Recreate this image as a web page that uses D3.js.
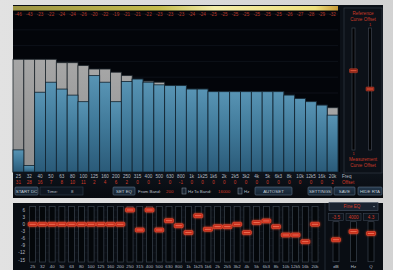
<!DOCTYPE html>
<html>
<head>
<meta charset="utf-8">
<style>
  html, body { margin: 0; padding: 0; background: #dcdcdc; overflow: hidden; }
  svg { display: block; font-family: "Liberation Sans", Arial, sans-serif; }
</style>
<script src="https://cdn.jsdelivr.net/npm/d3@7"></script>
</head>
<body>
<svg id="chart" width="393" height="270"></svg>
<script>
// 1/3 octave bands
const bands = ["25","32","40","50","63","80","100","125","160","200","250","315","400","500","630",
  "800","1k","1k25","1k6","2k","2k5","3k2","4k","5k","6k3","8k","10k","12k5","16k","20k"];
// red peak numbers over the RTA
const peakLabels = [-46,-43,-23,-22,-24,-24,-26,-20,-22,-19,-21,-21,-22,-23,-23,
  -23,-24,-24,-25,-25,-25,-25,-25,-25,-25,-26,-27,-28,-29,-32];
// grey reference curve (dB)
const refLevels = [-17.2,-17.2,-17.2,-17.2,-18.5,-18.5,-19.6,-20.9,-20.9,-22.1,-23.4,-24.7,-25.5,-25.9,-27.2,
  -27.2,-28.5,-28.5,-29.5,-29.5,-29.5,-29.5,-29.5,-29.5,-29.5,-30.8,-32.1,-33.3,-34.6,-35.6];
// blue measurement (dB)
const measLevels = [-51.6,-57.5,-29.7,-25.9,-28.5,-30.8,-33.3,-23.4,-25.9,-33.3,-25.6,-24.7,-25.9,-26.9,-27.2,
  -27.2,-28.5,-28.5,-29.5,-29.5,-29.5,-29.5,-29.5,-29.5,-29.5,-30.8,-32.1,-33.3,-34.6,-38.4];
// per band offset row
const offsets = [31,28,16,7,8,10,11,2,4,6,2,0,0,1,0,-1,0,0,0,0,0,0,0,0,0,0,0,0,0,2];
// graphic EQ gains (dB)
const eqGains = [0,0,0,0,0,0,0,0,0,0,6,-2.4,6,-2.4,1.5,-0.6,-3.5,3.6,-2.1,-1,-1,0,-3.5,0.7,1.4,-1,-4.5,-4.5,-7.3,0];
const eqTicks = [6,3,0,-3,-6,-9,-12,-15];
const gridDb = [0,-6,-12,-18,-24,-30,-36,-42,-48,-54];
// reference / measurement curve offsets
const curveOffsets = [6, 0];
// fine EQ
const fineLabels = ["dB","Hz","Q"];
const fineValues = [-3.5, 4000, 4.3];
const fineText = ["-3.5","4000","4.3"];

const svg = d3.select("#chart");
const defs = svg.append("defs");

function grad(id, stops, x2, y2) {
  const g = defs.append("linearGradient").attr("id", id)
    .attr("x1", 0).attr("y1", 0).attr("x2", x2).attr("y2", y2);
  stops.forEach(s => g.append("stop").attr("offset", s[0]).attr("stop-color", s[1]));
}
grad("bgGrad", [[0,"#e2e2e2"],[1,"#d2d2d2"]], 1, 0);
grad("yellow", [[0,"#9c9444"],[0.45,"#c4bc4c"],[0.62,"#f2eca8"],[0.93,"#eee07c"],[1,"#c89a38"]], 1, 0);
grad("blueBar", [[0,"#5894b4"],[0.5,"#3f7898"],[1,"#2a5a78"]], 0, 1);
grad("greyBar", [[0,"#a6a6a6"],[1,"#8e8e8e"]], 0, 1);
grad("btn", [[0,"#24384c"],[1,"#142230"]], 0, 1);
grad("panelLow", [[0,"#0e141c"],[1,"#070a0f"]], 0, 1);

const glow = defs.append("filter").attr("id", "glow")
  .attr("x", "-50%").attr("y", "-80%").attr("width", "200%").attr("height", "260%");
glow.append("feGaussianBlur").attr("stdDeviation", 0.9).attr("result", "b");
const fm = glow.append("feMerge");
fm.append("feMergeNode").attr("in", "b");
fm.append("feMergeNode").attr("in", "SourceGraphic");

svg.append("rect").attr("width", 393).attr("height", 270).attr("fill", "url(#bgGrad)");

// ---------- top RTA panel ----------
const rta = svg.append("g");
rta.append("rect").attr("x", 13).attr("y", 5).attr("width", 370).attr("height", 193).attr("fill", "#0b1017");
rta.append("rect").attr("x", 13).attr("y", 10).attr("width", 327).attr("height", 162).attr("fill", "#03050a");
rta.append("rect").attr("x", 13).attr("y", 6).attr("width", 325).attr("height", 4.5).attr("fill", "url(#yellow)");

const x = d3.scaleBand().domain(bands).range([13, 338]);
const y = d3.scaleLinear().domain([-60, 0]).range([172, 14]);
const bw = x.bandwidth();

rta.selectAll("line.grid").data(gridDb).enter().append("line")
  .attr("x1", 13).attr("x2", 338)
  .attr("y1", d => y(d)).attr("y2", d => y(d))
  .attr("stroke", "#141a24").attr("stroke-width", 0.6);

rta.selectAll("text.peak").data(peakLabels).enter().append("text")
  .attr("x", (d, i) => x(bands[i]) + bw / 2).attr("y", 16)
  .attr("text-anchor", "middle").attr("font-size", 4.6).attr("fill", "#b83a2a")
  .text(d => d);

rta.selectAll("rect.ref").data(refLevels).enter().append("rect")
  .attr("x", (d, i) => x(bands[i])).attr("y", d => y(d))
  .attr("width", bw).attr("height", d => y.range()[0] - y(d))
  .attr("fill", "url(#greyBar)").attr("stroke", "#20282e").attr("stroke-width", 0.8);

rta.selectAll("rect.meas").data(measLevels).enter().append("rect")
  .attr("x", (d, i) => x(bands[i])).attr("y", d => y(d))
  .attr("width", bw).attr("height", d => y.range()[0] - y(d))
  .attr("fill", "url(#blueBar)").attr("stroke", "#11222e").attr("stroke-width", 0.8);

// label strip
rta.append("rect").attr("x", 13).attr("y", 172).attr("width", 370).attr("height", 26).attr("fill", "url(#panelLow)");
rta.selectAll("text.freq").data(bands).enter().append("text")
  .attr("x", d => x(d) + bw / 2).attr("y", 177.5)
  .attr("text-anchor", "middle").attr("font-size", 4.6).attr("fill", "#b4bcc4")
  .text(d => d);
rta.selectAll("text.off").data(offsets).enter().append("text")
  .attr("x", (d, i) => x(bands[i]) + bw / 2).attr("y", 184)
  .attr("text-anchor", "middle").attr("font-size", 4.6).attr("fill", "#d03a28")
  .text(d => d);
rta.append("text").attr("x", 342).attr("y", 177.5).attr("font-size", 4.6).attr("fill", "#b4bcc4").text("Freq");
rta.append("text").attr("x", 342).attr("y", 184).attr("font-size", 4.6).attr("fill", "#d03a28").text("Offset");

// right side: curve offset sliders
rta.append("rect").attr("x", 344).attr("y", 8).attr("width", 38).attr("height", 165)
  .attr("fill", "#0c1118").attr("stroke", "#2c343e").attr("stroke-width", 0.8);
[["Reference", 14.5], ["Curve Offset", 21]].forEach(t => rta.append("text")
  .attr("x", 363).attr("y", t[1]).attr("text-anchor", "middle").attr("font-size", 4.6)
  .attr("fill", "#c83a28").text(t[0]));
[["Measurement", 160.5], ["Curve Offset", 167]].forEach(t => rta.append("text")
  .attr("x", 363).attr("y", t[1]).attr("text-anchor", "middle").attr("font-size", 4.6)
  .attr("fill", "#c83a28").text(t[0]));
rta.append("text").attr("x", 370).attr("y", 25.5).attr("text-anchor", "middle").attr("font-size", 4).attr("fill", "#c83a28").text("1");
rta.append("text").attr("x", 353.5).attr("y", 155).attr("text-anchor", "middle").attr("font-size", 4).attr("fill", "#c83a28").text("1");

const yOff = d3.scaleLinear().domain([20, -20]).range([28, 150]);
const offX = [353.5, 370];
rta.selectAll("rect.otrack").data(curveOffsets).enter().append("rect")
  .attr("x", (d, i) => offX[i] - 1.5).attr("y", yOff.range()[0])
  .attr("width", 3).attr("height", yOff.range()[1] - yOff.range()[0])
  .attr("fill", "#020304").attr("stroke", "#3c444e").attr("stroke-width", 0.7);
rta.selectAll("rect.othumb").data(curveOffsets).enter().append("rect")
  .attr("x", (d, i) => offX[i] - 4).attr("y", d => yOff(d) - 2)
  .attr("width", 8).attr("height", 4).attr("rx", 0.8)
  .attr("fill", "#8a2418").attr("stroke", "#c8442c").attr("stroke-width", 0.5);
rta.selectAll("line.othumb").data(curveOffsets).enter().append("line")
  .attr("x1", (d, i) => offX[i] - 3).attr("x2", (d, i) => offX[i] + 3)
  .attr("y1", d => yOff(d)).attr("y2", d => yOff(d))
  .attr("stroke", "#ff6a48").attr("stroke-width", 0.8);

// buttons row
function button(g, bx, w, label) {
  g.append("rect").attr("x", bx).attr("y", 187).attr("width", w).attr("height", 8).attr("rx", 1)
    .attr("fill", "url(#btn)").attr("stroke", "#5a6e84").attr("stroke-width", 0.6);
  g.append("text").attr("x", bx + w / 2).attr("y", 192.8).attr("text-anchor", "middle")
    .attr("font-size", 4.4).attr("fill", "#c4ccd6").text(label);
}
function label(g, lx, txt, col, anchor) {
  g.append("text").attr("x", lx).attr("y", 192.8).attr("font-size", 4.4)
    .attr("text-anchor", anchor || "start").attr("fill", col || "#b4bcc4").text(txt);
}
button(rta, 15, 23, "START DC");
rta.append("rect").attr("x", 40).attr("y", 187).attr("width", 43).attr("height", 8)
  .attr("fill", "#0e1620").attr("stroke", "#33414f").attr("stroke-width", 0.6);
label(rta, 47, "Time:");
label(rta, 71, "8");
button(rta, 113, 22, "SET EQ");
label(rta, 138, "From Band:");
label(rta, 166, "200", "#d03a28");
rta.append("rect").attr("x", 182).attr("y", 188).attr("width", 4).attr("height", 6)
  .attr("fill", "#1a2430").attr("stroke", "#8c98a6").attr("stroke-width", 0.5);
label(rta, 188, "Hz");
label(rta, 194, "To Band:");
label(rta, 218, "16000", "#d03a28");
rta.append("rect").attr("x", 238).attr("y", 188).attr("width", 4).attr("height", 6)
  .attr("fill", "#1a2430").attr("stroke", "#8c98a6").attr("stroke-width", 0.5);
label(rta, 244, "Hz");
button(rta, 255, 37, "AUTOSET");
button(rta, 308, 24, "SETTINGS");
button(rta, 334, 21, "SAVE");
button(rta, 358, 24, "HIDE RTA");

// ---------- bottom EQ panel ----------
const bot = svg.append("g");
bot.append("rect").attr("x", 13).attr("y", 203).attr("width", 370).attr("height", 67).attr("fill", "#090d13");
bot.append("line").attr("x1", 325).attr("x2", 325).attr("y1", 203).attr("y2", 270)
  .attr("stroke", "#2a323c").attr("stroke-width", 0.8);

const xe = d3.scaleBand().domain(bands).range([27.8, 319.9]);
const ye = d3.scaleLinear().domain([6, -15]).range([210, 260]);
const cx = b => xe(b) + xe.bandwidth() / 2;

bot.selectAll("line.eqgrid").data(eqTicks).enter().append("line")
  .attr("x1", 28).attr("x2", 320)
  .attr("y1", d => ye(d)).attr("y2", d => ye(d))
  .attr("stroke", "#161c25").attr("stroke-width", 0.5);
bot.selectAll("text.eqtick").data(eqTicks).enter().append("text")
  .attr("x", 25).attr("y", d => ye(d) + 1.6)
  .attr("text-anchor", "end").attr("font-size", 4.6).attr("fill", "#b4bcc4")
  .text(d => d);

bot.selectAll("rect.etrack").data(bands).enter().append("rect")
  .attr("x", d => cx(d) - 3).attr("y", 206.5)
  .attr("width", 6).attr("height", 55.5)
  .attr("fill", "#04070a").attr("stroke", "#3a434e").attr("stroke-width", 0.7);

const thumbs = bot.append("g").attr("filter", "url(#glow)");
thumbs.selectAll("rect.ethumb").data(eqGains).enter().append("rect")
  .attr("x", (d, i) => cx(bands[i]) - 4.5).attr("y", d => ye(d) - 2)
  .attr("width", 9).attr("height", 4).attr("rx", 1)
  .attr("fill", "#c42a1a").attr("stroke", "#f05a3a").attr("stroke-width", 0.5);
thumbs.selectAll("line.ethumb").data(eqGains).enter().append("line")
  .attr("x1", (d, i) => cx(bands[i]) - 3.2).attr("x2", (d, i) => cx(bands[i]) + 3.2)
  .attr("y1", d => ye(d)).attr("y2", d => ye(d))
  .attr("stroke", "#ff9070").attr("stroke-width", 0.7);

bot.selectAll("text.efreq").data(bands).enter().append("text")
  .attr("x", d => cx(d)).attr("y", 267.8)
  .attr("text-anchor", "middle").attr("font-size", 4.4).attr("fill", "#b4bcc4")
  .text(d => d);

// fine EQ
bot.append("rect").attr("x", 329).attr("y", 202.5).attr("width", 49).attr("height", 8)
  .attr("fill", "#1a2330").attr("stroke", "#4a5666").attr("stroke-width", 0.6);
bot.append("text").attr("x", 352).attr("y", 208.3).attr("text-anchor", "middle")
  .attr("font-size", 4.6).attr("fill", "#d03a28").text("Fine EQ");
bot.append("path").attr("d", "M373,206 l2,0 l-1,1.5 z").attr("fill", "#8c98a6");

const fineX = [336, 353.5, 371];
const fineScales = [
  d3.scaleLinear().domain([6, -15]).range([223, 260]),
  d3.scaleLog().domain([20000, 20]).range([223, 260]),
  d3.scaleLinear().domain([6, 0]).range([223, 260])
];
bot.selectAll("rect.fbox").data(fineText).enter().append("rect")
  .attr("x", (d, i) => fineX[i] - 7.5).attr("y", 213.5).attr("width", 15).attr("height", 7)
  .attr("fill", "#0e141c").attr("stroke", "#3a4450").attr("stroke-width", 0.6);
bot.selectAll("text.fval").data(fineText).enter().append("text")
  .attr("x", (d, i) => fineX[i]).attr("y", 218.8).attr("text-anchor", "middle")
  .attr("font-size", 4.6).attr("fill", "#d03a28").text(d => d);
bot.selectAll("rect.ftrack").data(fineValues).enter().append("rect")
  .attr("x", (d, i) => fineX[i] - 3).attr("y", 221.7).attr("width", 6).attr("height", 40)
  .attr("fill", "#04070a").attr("stroke", "#3a434e").attr("stroke-width", 0.7);
const fthumbs = bot.append("g").attr("filter", "url(#glow)");
fthumbs.selectAll("rect.fthumb").data(fineValues).enter().append("rect")
  .attr("x", (d, i) => fineX[i] - 4.5).attr("y", (d, i) => fineScales[i](d) - 2)
  .attr("width", 9).attr("height", 4).attr("rx", 1)
  .attr("fill", "#c42a1a").attr("stroke", "#f05a3a").attr("stroke-width", 0.5);
fthumbs.selectAll("line.fthumb").data(fineValues).enter().append("line")
  .attr("x1", (d, i) => fineX[i] - 3.2).attr("x2", (d, i) => fineX[i] + 3.2)
  .attr("y1", (d, i) => fineScales[i](d)).attr("y2", (d, i) => fineScales[i](d))
  .attr("stroke", "#ff9070").attr("stroke-width", 0.7);
bot.selectAll("text.flab").data(fineLabels).enter().append("text")
  .attr("x", (d, i) => fineX[i]).attr("y", 267.8).attr("text-anchor", "middle")
  .attr("font-size", 4.4).attr("fill", "#b4bcc4").text(d => d);
</script>
</body>
</html>
